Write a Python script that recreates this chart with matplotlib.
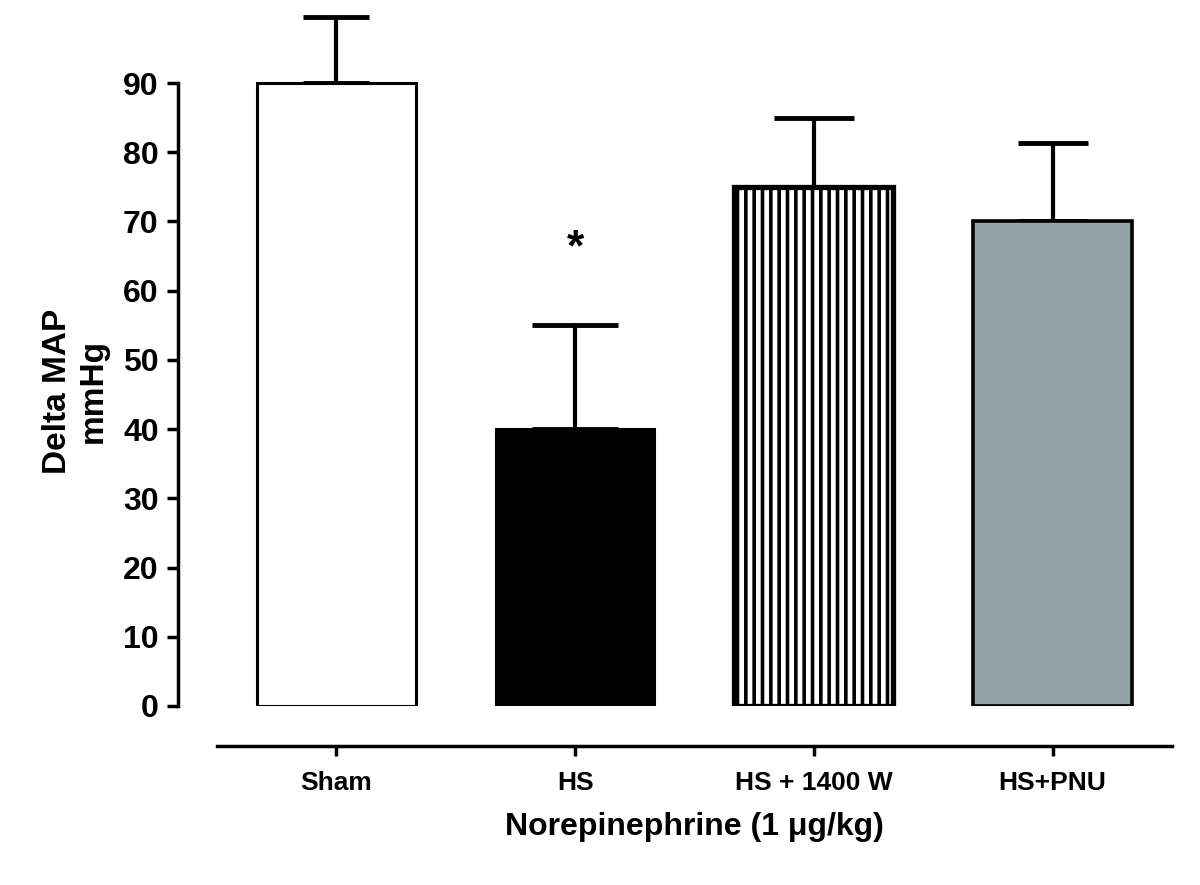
import numpy as np
import matplotlib
matplotlib.use("Agg")
import matplotlib.pyplot as plt

plt.rcParams['font.family'] = ['Liberation Sans', 'DejaVu Sans']
plt.rcParams['font.weight'] = 'bold'
plt.rcParams['hatch.linewidth'] = 2.6

# data
groups = ['Sham', 'HS', 'HS + 1400 W', 'HS+PNU']
means = [90, 40, 75, 70]
sem = [9.5, 15, 10, 11.3]
yticks = [0, 10, 20, 30, 40, 50, 60, 70, 80, 90]

fills = ['white', 'black', 'white', '#93a4a9']
edge_w = [2.2, 2.2, 3.8, 2.6]
hatches = [None, None, '||', None]
caps = [24, 31, 29, 25]

fig = plt.figure(figsize=(12, 8.85), dpi=100)
ax = fig.add_axes([0.1808, 0.2023, 0.7958, 0.7821])

x = np.arange(len(groups))
for i in range(len(groups)):
    ax.bar(x[i], means[i], width=0.665, color=fills[i], edgecolor='black',
           linewidth=edge_w[i], hatch=hatches[i], zorder=2)
    eb = ax.errorbar(x[i], means[i], yerr=[[0], [sem[i]]], fmt='none', ecolor='black',
                     elinewidth=3, capsize=caps[i], capthick=3.5, zorder=1)
    for c in eb[1]:
        c.set_solid_capstyle('round')

# significance marker
ax.text(x[1], 66, '*', ha='center', va='center', fontsize=32, fontweight='bold')

ax.set_xlim(-0.5, 3.5)
ax.set_ylim(0, 100)
ax.set_yticks(yticks)
ax.set_xticks(x)
ax.set_xticklabels(groups)
ax.tick_params(axis='y', labelsize=23, width=2.5, length=8, pad=6)
ax.tick_params(axis='x', labelsize=19, width=2.5, length=7, pad=11)

ax.spines['top'].set_visible(False)
ax.spines['right'].set_visible(False)
ax.spines['left'].set_position(('outward', 28))
ax.spines['left'].set_bounds(0, 90)
ax.spines['left'].set_linewidth(2.5)
ax.spines['bottom'].set_position(('outward', 29))
ax.spines['bottom'].set_linewidth(2.5)

ax.set_xlabel('Norepinephrine (1 μg/kg)', fontsize=23, fontweight='bold', labelpad=12)
ax.set_ylabel('Delta MAP\nmmHg', fontsize=24, fontweight='bold')
ax.yaxis.set_label_coords(-0.113, 0.455)

fig.savefig('out.png', dpi=100)
